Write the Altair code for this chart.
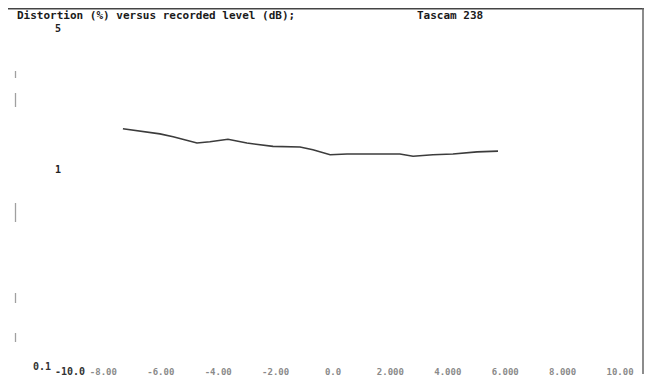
import altair as alt
import pandas as pd

# Data
levels_db = [-7.32, -6.03, -5.57, -4.74, -4.29, -3.66, -3.00, -2.09, -1.15, -0.70,
             -0.10, 0.49, 2.33, 2.79, 3.48, 4.18, 5.02, 5.75]
distortion_pct = [1.60, 1.51, 1.46, 1.36, 1.38, 1.42, 1.36, 1.31, 1.30, 1.26,
                  1.19, 1.20, 1.20, 1.17, 1.19, 1.20, 1.23, 1.24]

x_tick_values = [-8, -6, -4, -2, 0, 2, 4, 6, 8, 10]
x_tick_labels = ["-8.00", "-6.00", "-4.00", "-2.00", "0.0", "2.000", "4.000", "6.000", "8.000", "10.00"]
first_x_tick = [-10]
first_x_label = ["-10.0"]

y_tick_values = [5, 1]
y_tick_labels = ["5", "1"]
y_low_value = [0.1]
y_low_label = ["0.1"]

title_text = "Distortion (%) versus recorded level (dB);"
model_text = "Tascam 238"

FONT = "DejaVu Sans Mono"

xscale = alt.Scale(domain=[-11.08, 10.836], nice=False, zero=False)
yscale = alt.Scale(type="log", domain=[0.0934, 6.34], nice=False, zero=False)

line_df = pd.DataFrame({"level": levels_db, "dist": distortion_pct})

line = alt.Chart(line_df).mark_line(color="#3c3c3c", strokeWidth=1.6).encode(
    x=alt.X("level:Q", scale=xscale, axis=None),
    y=alt.Y("dist:Q", scale=yscale, axis=None),
)

xlab_df = pd.DataFrame({"pos": x_tick_values, "lab": x_tick_labels})
xlabels = alt.Chart(xlab_df).mark_text(
    font=FONT, fontSize=9, fontWeight="bold", color="#8a8a8a", baseline="middle", align="center"
).encode(
    x=alt.X("pos:Q", scale=xscale, axis=None),
    y=alt.value(364),
    text="lab:N",
)

xfirst_df = pd.DataFrame({"pos": first_x_tick, "lab": first_x_label})
xfirst = alt.Chart(xfirst_df).mark_text(
    font=FONT, fontSize=10, fontWeight="bold", color="#333333", baseline="middle", align="center", dx=24
).encode(
    x=alt.X("pos:Q", scale=xscale, axis=None),
    y=alt.value(364),
    text="lab:N",
)

ylab_df = pd.DataFrame({"v": y_tick_values, "lab": y_tick_labels})
ylabels = alt.Chart(ylab_df).mark_text(
    font=FONT, fontSize=10, fontWeight="bold", color="#222222", baseline="middle", align="center"
).encode(
    x=alt.value(43),
    y=alt.Y("v:Q", scale=yscale, axis=None),
    text="lab:N",
)

ylow_df = pd.DataFrame({"v": y_low_value, "lab": y_low_label})
ylow = alt.Chart(ylow_df).mark_text(
    font=FONT, fontSize=10, fontWeight="bold", color="#333333", baseline="middle", align="center", dy=-5
).encode(
    x=alt.value(27),
    y=alt.Y("v:Q", scale=yscale, axis=None),
    text="lab:N",
)

title_df = pd.DataFrame({"t": [title_text]})
title = alt.Chart(title_df).mark_text(
    font=FONT, fontSize=11, fontWeight="bold", color="#1a1a1a", align="left", baseline="middle"
).encode(x=alt.value(2), y=alt.value(8), text="t:N")

model_df = pd.DataFrame({"t": [model_text]})
model = alt.Chart(model_df).mark_text(
    font=FONT, fontSize=11, fontWeight="bold", color="#1a1a1a", align="left", baseline="middle"
).encode(x=alt.value(402), y=alt.value(8), text="t:N")

frame_df = pd.DataFrame({"k": [0]})
top_rule = alt.Chart(frame_df).mark_rule(color="#444444", strokeWidth=1.5).encode(
    x=alt.value(-7), x2=alt.value(629), y=alt.value(0.75)
)
right_rule = alt.Chart(frame_df).mark_rule(color="#666666", strokeWidth=1.5).encode(
    x=alt.value(628), y=alt.value(0), y2=alt.value(366)
)
left_rule = alt.Chart(frame_df).mark_rule(
    color="#a0a0a0", strokeWidth=1.3, strokeDash=[7, 15, 14, 96, 19, 71, 10, 30, 9, 40]
).encode(
    x=alt.value(0.5), y=alt.value(63), y2=alt.value(334)
)

chart = alt.layer(
    top_rule, right_rule, left_rule, line, xlabels, xfirst, ylabels, ylow, title, model
).properties(
    width=629, height=370,
    autosize=alt.AutoSizeParams(type="none"),
    padding={"left": 7, "top": 0, "right": 0, "bottom": 0},
    background="white",
).configure_view(strokeWidth=0)

chart.save("out.html", embed_options={"renderer": "svg", "actions": False})
